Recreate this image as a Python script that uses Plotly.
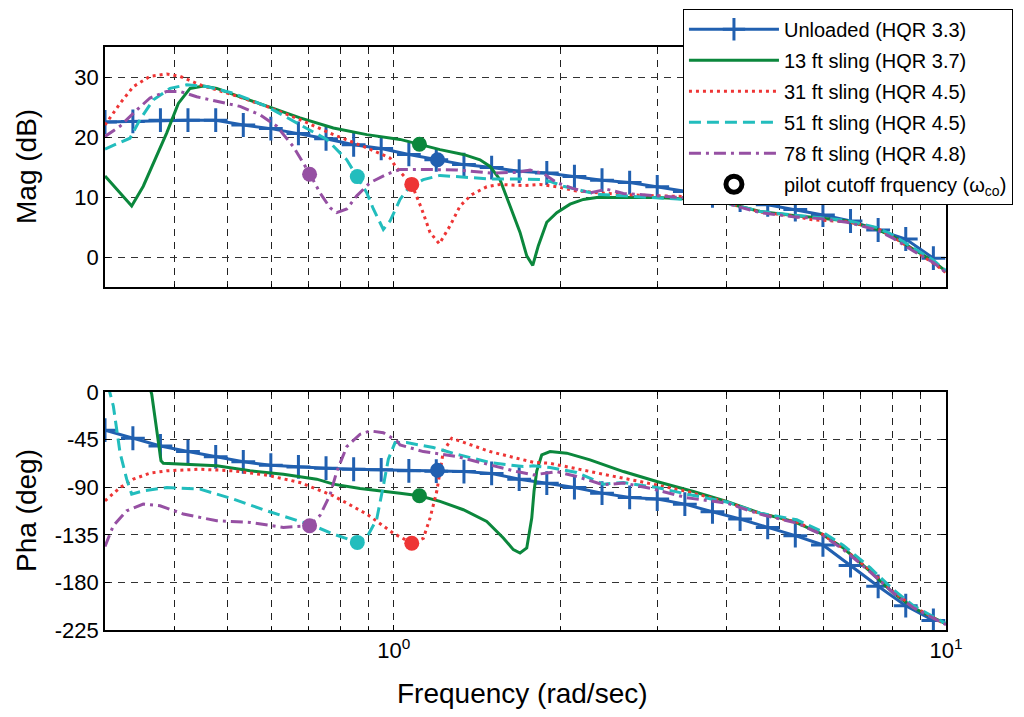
import plotly.graph_objects as go

# ---------------- data (frequency in rad/s, magnitude in dB, phase in deg) ----------------
unloaded_w = [0.300, 0.337, 0.378, 0.424, 0.476, 0.534, 0.599, 0.672, 0.754, 0.846, 0.949,
              1.065, 1.194, 1.340, 1.504, 1.687, 1.893, 2.124, 2.383, 2.674, 3.000, 3.366,
              3.777, 4.238, 4.755, 5.335, 5.986, 6.716, 7.536, 8.455, 9.487]
unloaded_mag = [22.5, 22.6, 22.8, 22.8, 22.8, 22.0, 21.4, 20.6, 19.7, 18.7, 18.1, 17.1, 16.2,
                15.4, 14.9, 14.3, 14.0, 13.4, 12.8, 12.4, 11.7, 10.9, 10.2, 9.5, 8.7, 7.9,
                7.0, 6.0, 4.5, 3.0, -0.2]
unloaded_pha = [-36.1, -43.7, -51.0, -56.3, -61.3, -66.0, -69.2, -70.8, -72.0, -73.0, -73.6,
                -74.5, -74.8, -75.2, -77.0, -82.4, -86.2, -90.3, -95.6, -99.7, -101.2, -106.0,
                -113.2, -120.1, -128.0, -135.8, -144.6, -164.0, -183.7, -202.0, -216.0]

sling13_mag_w = [0.300, 0.3353, 0.3519, 0.3670, 0.3881, 0.4073, 0.4277, 0.4520, 0.4781, 0.5269,
                 0.5889, 0.6765, 0.7773, 0.8936, 1.0265, 1.1158, 1.2128, 1.3366, 1.4329, 1.4939,
                 1.5575, 1.6239, 1.6931, 1.7411, 1.7852, 1.8274, 1.8926, 1.9732, 2.0857, 2.2044,
                 2.3312, 2.6047, 2.9938, 3.341, 4.009, 4.606, 5.292, 5.915, 6.613, 7.503, 8.031,
                 8.728, 9.48, 10.0]
sling13_mag = [13.5, 8.5, 11.8, 15.7, 20.7, 25.6, 28.1, 28.5, 28.1, 26.7,
               25.1, 23.2, 21.5, 20.4, 19.6, 18.8, 17.9, 17.1, 16.2, 15.1,
               12.9, 8.5, 4.1, 0.2, -1.4, 1.9, 5.8, 7.4, 8.8, 9.6,
               9.9, 9.9, 9.9, 9.7, 9.0, 7.6, 6.9, 6.5, 6.0, 4.6, 3.4,
               1.3, -0.7, -2.4]
sling13_pha_w = [0.300, 0.3589, 0.3645, 0.3696, 0.3747, 0.3789, 0.3826, 0.4159, 0.4781, 0.5493,
                 0.6311, 0.7253, 0.7773, 0.8690, 0.9575, 1.0265, 1.1125, 1.2128, 1.3366, 1.4735,
                 1.5791, 1.6463, 1.6931, 1.7411, 1.7778, 1.7949, 1.8152, 1.8535, 1.9189, 2.0572,
                 2.2669, 2.6047, 2.9938, 3.488, 4.009, 4.606, 5.292, 5.915, 6.520, 7.287, 8.031,
                 8.728, 9.890, 10.0]
sling13_pha = [60.0, 10.0, -2.0, -25.8, -47.8, -65.0, -67.3, -68.2, -69.8, -74.5,
               -77.7, -82.4, -87.1, -91.2, -93.4, -95.6, -98.1, -103.4, -111.3, -122.3,
               -138.0, -149.0, -152.2, -147.5, -119.2, -93.7, -74.8, -59.4, -56.3, -57.8,
               -64.2, -75.2, -84.6, -94.0, -103.5, -114.5, -122.3, -133.3, -147.5, -169.5, -190.0,
               -204.0, -218.0, -219.0]

sling31_mag_w = [0.300, 0.3194, 0.3376, 0.3619, 0.3881, 0.4102, 0.4458, 0.5123, 0.5889, 0.6765,
                 0.7773, 0.8936, 0.9846, 1.0125, 1.0778, 1.1237, 1.1633, 1.2093, 1.2644, 1.3183,
                 1.3842, 1.4735, 1.5575, 1.7165, 1.8402, 1.9732, 2.1447, 2.3634, 2.6047, 2.9938,
                 3.341, 4.009, 4.606, 5.292, 5.745, 6.613, 7.503, 8.031, 8.728, 9.48, 10.0]
sling31_mag = [22.0, 25.6, 28.4, 30.1, 30.5, 30.1, 28.7, 27.0, 25.1, 22.9,
               20.4, 18.2, 16.5, 14.8, 12.1, 8.0, 4.1, 2.2, 5.2, 8.5,
               10.4, 11.7, 12.1, 11.9, 12.1, 11.7, 11.0, 10.7, 10.4, 10.2,
               10.1, 9.0, 7.5, 6.8, 6.2, 5.9, 4.8, 3.3, 1.2, -1.0, -2.6]
sling31_pha_w = [0.300, 0.3194, 0.3376, 0.3619, 0.3881, 0.4458, 0.5123, 0.5889, 0.6765, 0.7773,
                 0.8936, 0.9983, 1.0778, 1.1312, 1.1633, 1.1963, 1.2128, 1.2296, 1.2734, 1.3556,
                 1.4939, 1.6699, 1.7898, 1.9189, 2.1146, 2.4305, 2.7928, 3.393, 4.009, 4.606,
                 5.368, 5.915, 6.520, 7.287, 8.031, 8.728, 9.890, 10.0]
sling31_pha = [-102.8, -90.3, -82.4, -76.7, -74.5, -73.0, -74.5, -78.6, -85.6, -98.1,
               -115.4, -133.5, -143.0, -138.4, -119.2, -94.0, -75.2, -56.3, -43.7, -48.4,
               -56.3, -62.6, -66.4, -67.4, -72.1, -78.4, -84.6, -94.0, -104.0, -115.0,
               -123.0, -133.0, -148.0, -168.5, -189.0, -203.0, -218.5, -219.5]

sling51_mag_w = [0.300, 0.3329, 0.3471, 0.3670, 0.3935, 0.4218, 0.4585, 0.5123, 0.5889, 0.6765,
                 0.7562, 0.8221, 0.8571, 0.8936, 0.9185, 0.9575, 0.9846, 1.0265, 1.0702, 1.1312,
                 1.2128, 1.3003, 1.4939, 1.7165, 1.8402, 1.9189, 2.028, 2.2044, 2.3634, 2.6047,
                 2.9938, 3.341, 4.009, 4.606, 5.292, 5.915, 6.613, 7.503, 8.031, 8.728, 9.48, 10.0]
sling51_mag = [18.0, 19.8, 22.9, 26.2, 28.1, 28.7, 28.4, 27.3, 25.1, 22.0,
               19.6, 16.2, 13.4, 10.7, 8.0, 4.6, 6.0, 9.6, 11.8, 12.9,
               13.6, 13.4, 13.0, 13.0, 12.9, 12.6, 11.8, 11.0, 10.4, 10.2,
               9.9, 9.6, 9.0, 7.6, 7.0, 6.6, 6.1, 4.9, 3.6, 1.5, -0.5, -2.3]
sling51_pha_w = [0.300, 0.3042, 0.3106, 0.3194, 0.3284, 0.3353, 0.3519, 0.3881, 0.4458, 0.5123,
                 0.5889, 0.6578, 0.7151, 0.7773, 0.8593, 0.8936, 0.9315, 0.9575, 0.9777, 1.0054,
                 1.0556, 1.1794, 1.3003, 1.4939, 1.7165, 1.7898, 1.9189, 2.1447, 2.3963, 2.6047,
                 2.9938, 3.393, 4.009, 4.606, 5.368, 5.915, 6.520, 7.287, 8.031, 8.728, 9.890, 10.0]
sling51_pha = [40.0, 5.0, -13.2, -57.3, -82.4, -96.5, -93.4, -90.3, -91.8, -101.2,
               -112.3, -120.1, -126.4, -134.3, -142.2, -137.5, -120.1, -88.7, -63.5, -47.8,
               -47.8, -52.5, -58.8, -66.7, -70.5, -69.8, -71.4, -76.1, -87.1, -85.6,
               -90.3, -96.5, -104.0, -114.5, -120.8, -131.0, -145.0, -166.0, -187.0, -202.0, -218.0, -219.0]

sling78_mag_w = [0.300, 0.3194, 0.3424, 0.3619, 0.3881, 0.4102, 0.4397, 0.4781, 0.5269, 0.5727,
                 0.6140, 0.6578, 0.7053, 0.7353, 0.7667, 0.7884, 0.8221, 0.8571, 0.9060, 0.9712,
                 1.0265, 1.1312, 1.3003, 1.4939, 1.6699, 1.7657, 1.8659, 1.9732, 2.1146, 2.2669,
                 2.4305, 2.6047, 2.9938, 3.341, 4.009, 4.606, 5.292, 5.915, 6.613, 7.503, 8.031,
                 8.728, 9.48, 10.0]
sling78_mag = [20.1, 21.8, 24.5, 26.5, 27.6, 27.6, 26.7, 25.9, 25.1, 23.7,
               21.8, 18.4, 13.8, 10.7, 8.2, 7.4, 8.0, 10.2, 12.4, 13.8,
               14.6, 14.6, 14.5, 14.0, 14.1, 14.5, 13.9, 12.4, 11.4, 10.7,
               11.3, 10.6, 10.2, 9.9, 8.9, 7.4, 6.7, 6.4, 5.8, 4.5, 3.1,
               1.0, -0.9, -2.6]
sling78_pha_w = [0.300, 0.3106, 0.3284, 0.3519, 0.3774, 0.4159, 0.4781, 0.5493, 0.6311, 0.7032,
                 0.7353, 0.7667, 0.7884, 0.8221, 0.8690, 0.9060, 0.9575, 1.0125, 1.0265, 1.1312,
                 1.3003, 1.4939, 1.6699, 1.7898, 1.9732, 2.1447, 2.3963, 2.6047, 2.9119, 3.393,
                 4.009, 4.606, 5.368, 5.915, 6.520, 7.287, 8.031, 8.728, 9.890, 10.0]
sling78_pha = [-146.0, -126.4, -112.3, -106.0, -107.5, -115.4, -121.7, -123.3, -128.0, -126.4,
               -116.7, -97.2, -75.2, -51.6, -39.9, -36.8, -38.4, -46.2, -50.0, -56.3,
               -61.0, -69.0, -75.2, -78.4, -75.2, -79.9, -87.7, -86.1, -91.0, -100.0,
               -105.0, -115.5, -124.0, -134.0, -149.0, -170.0, -190.0, -204.0, -219.0, -220.0]

# pilot cutoff frequency points (unloaded, 13, 31, 51, 78 ft)
cutoff_w = [1.20, 1.113, 1.078, 0.859, 0.704]
cutoff_mag = [16.2, 18.8, 12.1, 13.4, 13.8]
cutoff_pha = [-74.0, -98.1, -143.0, -142.2, -126.4]

series_names = ["Unloaded (HQR 3.3)", "13 ft sling (HQR 3.7)", "31 ft sling (HQR 4.5)",
                "51 ft sling (HQR 4.5)", "78 ft sling (HQR 4.8)"]
cutoff_name = "pilot cutoff frquency (\u03c9<sub>co</sub>)"

major_ticks = [1, 10]
major_text = ["10<sup>0</sup>", "10<sup>1</sup>"]
minor_ticks = [0.4, 0.5, 0.6, 0.7, 0.8, 0.9, 2, 3, 4, 5, 6, 7, 8, 9]
mag_ticks = [0, 10, 20, 30]
pha_ticks = [-225, -180, -135, -90, -45, 0]

# ---------------- styles ----------------
colors = ["#2160B0", "#0B873C", "#EE3535", "#22BDBD", "#9650A3"]
dashes = ["solid", "solid", "3px,4px", "12px,6px", "12px,5px,3px,5px"]
FONT = "Liberation Sans, Arial, Helvetica, sans-serif"

fig = go.Figure()

sling_data = [
    (sling13_mag_w, sling13_mag, sling13_pha_w, sling13_pha),
    (sling31_mag_w, sling31_mag, sling31_pha_w, sling31_pha),
    (sling51_mag_w, sling51_mag, sling51_pha_w, sling51_pha),
    (sling78_mag_w, sling78_mag, sling78_pha_w, sling78_pha),
]

# Unloaded
ul_marker = dict(symbol="cross-thin", size=17, line=dict(width=3, color=colors[0]))
fig.add_trace(go.Scatter(x=unloaded_w, y=unloaded_mag, mode="lines+markers", name=series_names[0],
                         line=dict(color=colors[0], width=3), marker=ul_marker,
                         legendgroup="g0", xaxis="x", yaxis="y"))
fig.add_trace(go.Scatter(x=unloaded_w, y=unloaded_pha, mode="lines+markers", showlegend=False,
                         line=dict(color=colors[0], width=3), marker=ul_marker,
                         legendgroup="g0", xaxis="x2", yaxis="y2"))

for i, (mw, mv, pw, pv) in enumerate(sling_data, start=1):
    ln = dict(color=colors[i], width=3, dash=dashes[i])
    fig.add_trace(go.Scatter(x=mw, y=mv, mode="lines", name=series_names[i], line=ln,
                             legendgroup=f"g{i}", xaxis="x", yaxis="y"))
    fig.add_trace(go.Scatter(x=pw, y=pv, mode="lines", showlegend=False, line=ln,
                             legendgroup=f"g{i}", xaxis="x2", yaxis="y2"))

# cutoff markers
for i in range(5):
    mk = dict(size=15, color=colors[i])
    fig.add_trace(go.Scatter(x=[cutoff_w[i]], y=[cutoff_mag[i]], mode="markers", marker=mk,
                             showlegend=False, legendgroup=f"g{i}", xaxis="x", yaxis="y"))
    fig.add_trace(go.Scatter(x=[cutoff_w[i]], y=[cutoff_pha[i]], mode="markers", marker=mk,
                             showlegend=False, legendgroup=f"g{i}", xaxis="x2", yaxis="y2"))

# legend-only entry for the cutoff symbol
fig.add_trace(go.Scatter(x=[None], y=[None], mode="markers", name=cutoff_name,
                         marker=dict(size=16, color="white", line=dict(width=5, color="black")),
                         legendgroup="g5", xaxis="x", yaxis="y"))

grid_dash = "7px,6px"
minor_cfg = dict(tickvals=minor_ticks, showgrid=True, gridcolor="#222222", griddash=grid_dash,
                 gridwidth=1, ticks="inside", ticklen=3, tickcolor="black")
common_x = dict(type="log", range=[-0.5228787, 1.0], tickvals=major_ticks, minor=minor_cfg,
                showgrid=True, gridcolor="#222222", griddash=grid_dash, gridwidth=1,
                showline=True, linecolor="black", linewidth=1.5, mirror="ticks",
                ticks="inside", ticklen=5, tickcolor="black", zeroline=False,
                tickfont=dict(family=FONT, size=22, color="black"))
common_y = dict(showgrid=True, gridcolor="#333333", griddash=grid_dash, gridwidth=1,
                showline=True, linecolor="black", linewidth=1.5, mirror="ticks",
                ticks="inside", ticklen=5, tickcolor="black", zeroline=False,
                tickfont=dict(family=FONT, size=22, color="black"))

top_dom = [0.5883, 1.0]
bot_dom = [0.0, 0.4082]

# page body has an 8px margin, so the figure is sized to fit the window
fig.update_layout(
    width=1008, height=701,
    margin=dict(l=97, r=70, t=39, b=79, autoexpand=False),
    paper_bgcolor="white", plot_bgcolor="white",
    font=dict(family=FONT, color="black"),
    xaxis=dict(common_x, domain=[0, 1], anchor="y", showticklabels=False),
    xaxis2=dict(common_x, domain=[0, 1], anchor="y2", ticktext=major_text),
    yaxis=dict(common_y, domain=top_dom, anchor="x", range=[-5, 35], tickvals=mag_ticks,
               ticktext=[str(v) for v in mag_ticks]),
    yaxis2=dict(common_y, domain=bot_dom, anchor="x2", range=[-225, 0], tickvals=pha_ticks,
                ticktext=[str(v) for v in pha_ticks]),
    legend=dict(xref="container", yref="container", x=0.6696, y=0.999,
                xanchor="left", yanchor="top",
                bgcolor="white", bordercolor="black", borderwidth=1,
                font=dict(family=FONT, size=20, color="black"),
                tracegroupgap=2, traceorder="grouped", itemwidth=90),
    annotations=[
        dict(text="Mag (dB)", xref="paper", yref="paper", x=0, y=sum(top_dom) / 2,
             xshift=-79, textangle=-90, showarrow=False, xanchor="center", yanchor="middle",
             font=dict(family=FONT, size=28, color="black")),
        dict(text="Pha (deg)", xref="paper", yref="paper", x=0, y=sum(bot_dom) / 2,
             xshift=-79, textangle=-90, showarrow=False, xanchor="center", yanchor="middle",
             font=dict(family=FONT, size=28, color="black")),
        dict(text="Frequency (rad/sec)", xref="paper", yref="paper", x=0.496, y=0,
             yshift=-63, showarrow=False, xanchor="center", yanchor="middle",
             font=dict(family=FONT, size=28, color="black")),
    ],
)

fig.write_html("out.html")
